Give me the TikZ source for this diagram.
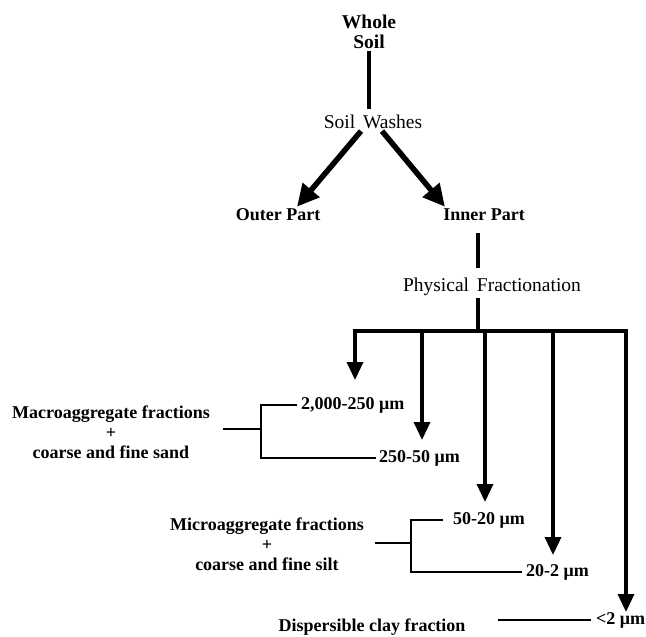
\documentclass[tikz,border=0pt]{standalone}
\usepackage{fontspec}
\setmainfont{Liberation Serif}
\usetikzlibrary{arrows.meta}
\begin{document}
\begin{tikzpicture}[x=1pt,y=-1pt,
 bl/.style={font=\fontsize{18}{20}\selectfont\bfseries, inner sep=2pt, align=center},
 rg/.style={font=\fontsize{19.5}{22}\selectfont, inner sep=2pt},
 lab/.style={bl, anchor=west, inner sep=1pt},
 thickline/.style={line width=3.4pt},
 thickarrow/.style={line width=3.4pt, -{Triangle[length=18pt,width=16pt]}},
 diag/.style={line width=5.5pt, -{Triangle[length=22pt,width=21pt]}},
 brk/.style={line width=1.8pt},
 tickline/.style={line width=1.1pt}]
\useasboundingbox (0,0) rectangle (646,637);
% nodes
\node[bl, font=\fontsize{19.5}{20}\selectfont\bfseries] (whole) at (369,32) {Whole\\Soil};
\node[rg] (washes) at (373,122) {Soil\hspace{3pt} Washes};
\node[bl] (outer) at (278,215) {Outer Part};
\node[bl] (inner) at (484,215) {Inner Part};
\node[rg] (phys) at (492,287) {Physical\hspace{3pt} Fractionation};
\node[bl] (macro) at (111,432) {Macroaggregate fractions\\+\\coarse and fine sand};
\node[bl] (micro) at (267,544) {Microaggregate fractions\\+\\coarse and fine silt};
\node[bl] (clay) at (372,627) {Dispersible clay fraction};
\node[lab] (r1) at (300,405) {2,000-250 μm};
\node[lab] (r2) at (378,458) {250-50 μm};
\node[lab] (r3) at (452,520) {50-20 μm};
\node[lab] (r4) at (525,572) {20-2 μm};
\node[lab] (r5) at (595,620) {<2 μm};
% coordinates
\coordinate (b0) at (478,331);
\coordinate (t1) at (355,380);
\coordinate (t2) at (422,440);
\coordinate (t3) at (485,502);
\coordinate (t4) at (553,555);
\coordinate (t5) at (626,612);
\coordinate (k1) at (261,429);
\coordinate (k1a) at (223,429);
\coordinate (k2) at (411,543);
\coordinate (k2a) at (375,543);
\coordinate (k3) at (498,620);
% connectors
\draw[thickline] (whole.south) -- ([yshift=4pt]whole.south |- washes.north);
\draw[diag] ([xshift=-12pt]washes.south) -- ([xshift=19pt]outer.north);
\draw[diag] ([xshift=9pt]washes.south) -- ([xshift=-39pt]inner.north);
\draw[thickline] ([yshift=-10pt]inner.south -| b0) -- ([yshift=8pt]phys.north -| b0);
\draw[thickline] (phys.south -| b0) -- (b0);
\draw[thickarrow] (b0) -| (t1);
\draw[thickarrow] (b0) -| (t5);
\draw[thickarrow] (t2 |- b0) -- (t2);
\draw[thickarrow] (t3 |- b0) -- (t3);
\draw[thickarrow] (t4 |- b0) -- (t4);
\draw[brk] ([xshift=-3pt]r1.west) -| (k1) |- ([xshift=-2pt]r2.west);
\draw[tickline] (k1a) -- (k1);
\draw[brk] ([xshift=-9pt]r3.west) -| (k2) |- ([xshift=-3pt]r4.west);
\draw[tickline] (k2a) -- (k2);
\draw[line width=1.3pt] (k3) -- ([xshift=-4pt]r5.west);
\end{tikzpicture}
\end{document}
